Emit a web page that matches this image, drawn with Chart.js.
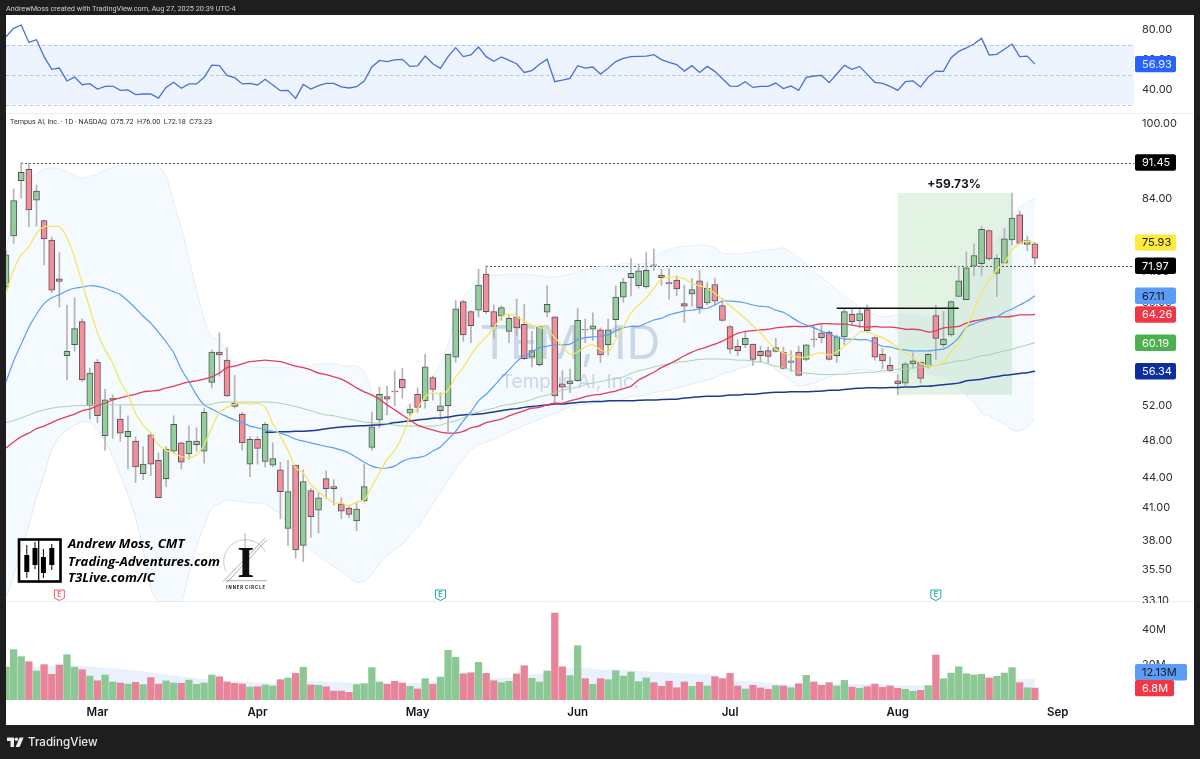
<!DOCTYPE html>
<html>
<head>
<meta charset="utf-8">
<title>TEM 1D</title>
<script src="https://cdn.jsdelivr.net/npm/chart.js@4/dist/chart.umd.min.js"></script>
<style>
  html, body { margin: 0; padding: 0; background: #1e1e1e; }
  #wrap { position: relative; width: 1200px; height: 759px; overflow: hidden; }
  #chart { position: absolute; left: 0; top: 0; }
  .txt { position: absolute; white-space: pre; font-family: Roboto, sans-serif; }
  #head { left: 6px; top: 4px; font-size: 7.3px; line-height: 10px; color: #cfcfcf; }
  #legend { left: 10px; top: 117px; font-size: 7.2px; line-height: 10px; color: #2a2e39; }
  #brand { left: 28px; top: 734px; font-family: Inter, sans-serif; font-size: 11.6px; line-height: 16px; font-weight: 500; color: #ececec; }
</style>
</head>
<body>
<div id="wrap">
  <canvas id="chart" width="1200" height="759"></canvas>
  <div class="txt" id="head">AndrewMoss created with TradingView.com, Aug 27, 2025 20:39 UTC-4</div>
  <div class="txt" id="legend">Tempus AI, Inc. · 1D · NASDAQ  O75.72  H76.00  L72.18  C73.23</div>
  <div class="txt" id="brand">TradingView</div>
</div>
<script>
// trading days, by month
const febDays = [12,13,14,18,19,20,21,24,25,26,27,28];
const marDays = [3,4,5,6,7,10,11,12,13,14,17,18,19,20,21,24,25,26,27,28,31];
const aprDays = [1,2,3,4,7,8,9,10,11,14,15,16,17,21,22,23,24,25,28,29,30];
const mayDays = [1,2,5,6,7,8,9,12,13,14,15,16,19,20,21,22,23,27,28,29,30];
const junDays = [2,3,4,5,6,9,10,11,12,13,16,17,18,20,23,24,25,26,27,30];
const julDays = [1,2,3,7,8,9,10,11,14,15,16,17,18,21,22,23,24,25,28,29,30,31];
const augDays = [1,4,5,6,7,8,11,12,13,14,15,18,19,20,21,22,25,26,27,28,29];
const sepDays = [2,3,4,5,8,9,10,11,12,15,16];

const categories = [].concat(
  febDays.map(d => 'Feb ' + d), marDays.map(d => 'Mar ' + d), aprDays.map(d => 'Apr ' + d),
  mayDays.map(d => 'May ' + d), junDays.map(d => 'Jun ' + d), julDays.map(d => 'Jul ' + d),
  augDays.map(d => 'Aug ' + d), sepDays.map(d => 'Sep ' + d)
);

const monthLabels = { 'Mar 3': 'Mar', 'Apr 1': 'Apr', 'May 1': 'May', 'Jun 2': 'Jun', 'Jul 1': 'Jul', 'Aug 1': 'Aug', 'Sep 2': 'Sep' };

const opens = [
  68.5,77.1,87.7,90.0,83.8,79.9,76.4,69.8,58.4,59.9,
  63.2,52.0,57.5,48.5,52.7,50.4,48.4,47.9,44.4,48.6,
  45.8,43.9,46.8,47.7,46.5,47.5,46.8,54.9,58.9,57.8,
  52.3,51.0,45.4,48.1,45.7,45.3,44.8,39.1,45.3,37.6,
  42.7,40.8,43.9,43.1,41.4,41.0,39.8,41.7,47.2,50.3,
  53.1,53.8,55.3,51.1,53.4,52.6,55.5,51.4,52.0,58.2,
  66.2,64.7,64.9,70.6,64.7,64.0,61.8,63.9,62.8,58.2,
  57.2,64.6,63.9,54.7,54.7,55.1,62.1,62.1,62.0,59.9,
  63.5,66.9,70.0,68.7,68.5,72.1,70.4,69.2,69.6,65.9,
  67.4,69.5,66.0,68.9,65.6,62.5,59.7,59.9,60.0,59.0,
  59.1,59.0,58.9,57.5,58.9,57.9,60.7,61.6,61.7,58.4,
  61.0,64.3,63.3,65.0,60.9,58.6,57.1,55.1,54.8,57.3,
  57.5,56.9,64.1,59.9,61.3,67.0,66.5,71.9,72.3,78.1,
  70.7,72.4,76.4,81.0,75.6,75.72
];
const closes = [
  73.8,83.7,89.4,81.9,85.6,76.6,68.0,69.4,59.0,62.2,
  55.2,56.1,50.8,52.7,52.9,48.8,49.0,45.1,45.4,45.4,
  42.0,47.0,49.8,45.6,47.9,47.9,51.2,58.9,58.5,53.2,
  51.9,47.7,48.1,47.1,49.8,46.0,42.6,42.6,37.2,43.6,
  40.2,42.0,42.9,42.9,40.7,40.4,40.9,43.1,49.5,53.4,
  52.8,53.7,54.2,51.6,51.8,56.9,54.0,52.0,58.6,65.1,
  61.3,62.6,68.8,64.7,62.5,65.3,63.7,62.3,58.0,59.1,
  62.5,65.8,53.2,54.3,55.1,63.4,62.0,62.6,58.5,62.0,
  66.9,69.3,70.7,71.1,71.2,72.0,70.0,69.0,68.2,65.5,
  68.1,65.3,68.3,66.3,63.4,59.3,59.1,60.8,57.9,58.4,
  58.3,59.5,56.7,57.7,55.8,59.9,60.6,60.9,57.9,61.0,
  64.7,63.2,64.4,61.9,58.2,57.7,56.4,54.7,57.3,57.7,
  55.4,58.6,60.8,60.7,66.2,69.5,71.6,73.7,78.3,73.1,
  73.2,76.6,80.4,75.8,76.3,73.23
];
const highs = [
  74.6,86.0,91.45,91.3,86.8,80.0,76.9,74.2,65.7,66.8,
  63.6,56.7,57.9,54.0,53.3,52.0,50.8,48.4,47.3,48.8,
  46.6,47.3,50.8,47.8,49.6,49.4,51.7,59.2,61.6,59.5,
  55.8,51.2,48.4,48.4,50.0,47.7,45.6,45.8,45.3,44.8,
  42.9,42.5,44.7,43.8,42.0,41.3,41.5,45.4,51.2,54.3,
  54.4,56.4,56.7,52.2,54.2,58.6,55.7,53.6,58.6,66.4,
  66.4,64.8,71.4,71.97,65.7,65.6,64.3,66.6,65.8,61.8,
  62.6,68.7,63.9,56.4,56.6,65.2,63.6,64.5,62.3,63.6,
  68.7,69.9,73.2,72.2,74.2,74.8,71.4,71.5,70.3,68.8,
  69.9,71.2,69.2,69.9,66.7,62.6,60.6,61.7,60.0,59.7,
  59.6,60.8,59.6,59.1,59.7,60.0,62.6,62.7,61.9,61.3,
  65.2,65.2,65.2,65.7,61.0,59.4,58.2,55.9,57.5,58.8,
  57.6,58.7,65.7,64.7,66.3,71.9,74.3,75.7,78.9,78.2,
  73.8,78.5,85.2,81.7,77.1,76.0
];
const lows = [
  68.0,75.8,84.2,78.8,78.9,72.1,67.6,65.4,55.2,59.0,
  55.0,50.4,50.0,46.9,48.2,47.9,44.9,43.5,43.8,44.2,
  42.0,43.1,46.6,44.9,45.9,46.8,45.5,54.2,55.7,53.1,
  51.7,46.9,44.1,45.4,45.1,45.1,40.0,37.6,36.5,36.2,
  38.3,38.7,41.9,41.3,40.0,40.1,38.9,41.6,46.9,49.4,
  50.9,52.0,52.9,50.8,51.2,51.7,52.7,50.3,48.9,57.5,
  60.4,60.2,63.9,64.4,60.8,63.4,60.2,61.2,57.9,56.9,
  57.0,63.9,52.4,52.7,53.6,55.0,60.2,60.5,57.5,58.5,
  61.0,66.1,67.1,68.3,68.3,71.2,68.8,66.6,67.1,63.1,
  65.5,64.4,65.7,65.7,63.3,58.7,58.4,59.5,57.1,57.6,
  57.4,58.9,56.6,56.3,55.7,57.7,59.6,60.2,57.8,57.5,
  59.9,62.7,62.3,61.7,57.8,56.7,56.3,53.34,54.5,56.7,
  54.8,56.7,57.9,59.6,61.1,67.0,66.5,70.3,70.4,72.9,
  67.0,72.3,75.5,75.7,74.5,72.18
];

const ema10 = [
  67.6,71.3,73.8,75.2,77.6,78.8,78.8,78.8,76.8,73.3,
  69.1,65.2,61.6,59.2,57.4,55.0,53.3,51.1,49.7,48.8,
  47.5,46.9,46.6,46.2,46.1,46.4,47.5,49.4,51.2,51.8,
  52.2,52.3,52.2,52.3,51.8,49.9,48.4,46.9,45.0,44.5,
  43.3,42.6,42.0,41.5,41.5,41.2,41.6,41.8,43.1,44.5,
  45.9,46.9,48.4,50.7,51.7,53.1,53.6,53.4,53.9,55.6,
  56.8,58.5,59.9,61.0,62.3,63.9,64.3,63.9,63.3,62.7,
  62.4,62.0,60.9,59.7,58.6,58.9,59.6,59.9,59.2,58.9,
  60.6,62.4,64.5,65.7,66.8,68.3,69.8,70.1,70.1,69.8,
  69.1,68.7,68.3,67.5,66.5,65.6,64.6,63.7,62.6,61.6,
  60.3,59.3,58.8,58.4,58.2,58.2,58.6,58.8,58.5,58.9,
  59.7,60.6,61.7,61.7,61.3,60.9,60.3,59.5,58.8,58.1,
  57.4,57.0,57.1,57.5,58.9,60.3,62.4,64.9,67.6,69.6,
  71.3,72.4,74.7,75.8,76.2,75.93
];
const sma20 = [
  54.95,57.7,60.0,62.4,64.3,65.9,66.8,67.3,67.9,68.3,
  68.5,68.7,68.6,68.3,67.8,67.3,66.3,65.2,64.0,63.0,
  61.7,60.3,58.8,56.6,55.0,53.3,52.1,51.6,51.1,50.7,
  50.3,50.0,49.6,49.4,49.15,49.0,48.8,48.5,48.1,47.9,
  47.7,47.5,47.3,47.15,46.9,46.6,46.1,45.6,45.2,45.0,
  45.0,45.2,45.7,46.0,46.1,46.3,46.8,47.25,48.1,49.0,
  50.2,51.25,52.6,53.4,54.4,55.5,56.5,57.6,58.4,58.9,
  59.5,59.7,59.9,59.9,60.0,60.6,60.9,61.0,61.1,61.3,
  61.85,62.3,62.5,62.5,63.0,63.45,63.7,64.2,64.5,64.8,
  64.9,65.1,65.2,65.7,66.3,66.3,66.2,66.0,65.7,65.5,
  65.4,64.9,64.6,63.9,63.2,62.7,62.3,61.85,61.4,61.0,
  60.7,60.7,60.6,60.6,60.15,59.7,59.6,59.3,59.2,59.05,
  59.05,59.05,59.2,59.3,59.9,60.9,62.4,62.9,63.3,63.6,
  63.9,64.6,65.1,65.7,66.3,67.11
];
const sma50 = [
  47.15,47.8,48.4,48.8,49.3,49.6,50.0,50.4,50.7,51.0,
  51.4,51.6,52.0,52.3,52.7,52.95,53.2,53.4,53.7,53.8,
  53.9,54.2,54.4,54.7,54.95,55.1,55.3,55.6,56.1,56.8,
  57.0,57.3,57.6,57.7,57.8,57.7,57.6,57.3,57.0,56.8,
  56.5,56.1,55.9,55.6,55.3,54.8,54.2,53.7,53.3,52.8,
  52.1,51.5,50.9,50.3,49.7,49.4,49.15,48.9,48.8,48.8,
  49.0,49.4,49.6,50.0,50.2,50.4,50.8,51.1,51.4,51.7,
  51.8,52.1,52.3,52.3,52.6,52.8,53.1,53.3,53.4,53.6,
  53.8,54.1,54.4,55.2,55.7,56.2,56.8,57.3,57.8,58.4,
  58.9,59.3,59.6,60.0,60.4,61.0,61.5,61.8,61.9,62.0,
  62.1,62.3,62.4,62.5,62.5,62.5,62.7,62.9,62.9,62.85,
  62.85,62.7,62.5,62.4,62.5,62.4,62.4,62.3,62.1,62.1,
  62.0,61.7,61.85,62.3,62.4,62.5,63.0,63.3,63.5,63.75,
  63.9,63.9,64.0,64.2,64.2,64.26
];
const sma100 = [
  50.0,50.25,50.55,50.9,51.25,51.5,51.7,51.85,51.9,52.0,
  52.0,52.05,52.1,52.1,52.1,52.1,52.1,52.1,52.1,52.1,
  52.1,52.1,52.1,52.1,52.1,52.1,52.1,52.2,52.4,52.45,
  52.45,52.45,52.45,52.45,52.45,52.4,52.3,52.1,51.9,51.65,
  51.4,51.1,50.9,50.8,50.6,50.4,50.25,50.05,50.0,49.9,
  49.85,49.7,49.6,49.6,49.6,49.6,49.6,49.7,50.0,50.2,
  50.55,51.0,51.25,51.5,51.7,52.0,52.15,52.3,52.5,52.75,
  53.1,53.3,53.6,53.9,54.1,54.3,54.6,54.8,55.0,55.2,
  55.4,55.6,56.05,56.4,56.6,56.9,57.1,57.3,57.5,57.6,
  57.75,57.9,57.95,57.95,57.95,57.9,57.8,57.8,57.7,57.5,
  57.3,57.0,56.8,56.5,56.2,56.1,56.0,55.9,55.9,55.9,
  55.95,56.05,56.1,56.2,56.2,56.4,56.5,56.6,56.6,56.8,
  56.8,57.0,57.1,57.3,57.5,57.7,57.8,58.1,58.4,58.5,
  58.8,59.05,59.3,59.6,59.9,60.19
];
const sma200 = [
  null,null,null,null,null,null,null,null,null,null,
  null,null,null,null,null,null,null,null,null,null,
  null,null,null,null,null,null,null,null,null,null,
  null,null,null,null,48.9,48.9,48.95,48.95,49.0,49.0,
  49.05,49.15,49.3,49.4,49.5,49.55,49.6,49.65,49.7,49.75,
  49.85,50.0,50.1,50.2,50.3,50.4,50.5,50.55,50.65,50.8,
  50.9,50.95,51.0,51.1,51.25,51.4,51.55,51.65,51.8,51.9,
  52.0,52.1,52.2,52.2,52.3,52.4,52.45,52.5,52.5,52.6,
  52.6,52.6,52.6,52.65,52.7,52.7,52.75,52.8,52.8,52.95,
  53.0,53.1,53.15,53.15,53.2,53.3,53.3,53.4,53.4,53.5,
  53.6,53.65,53.65,53.7,53.7,53.7,53.75,53.8,53.9,53.9,
  54.0,54.1,54.15,54.2,54.2,54.2,54.25,54.25,54.3,54.3,
  54.4,54.4,54.5,54.6,54.7,54.8,55.1,55.2,55.3,55.5,
  55.65,55.8,55.9,56.05,56.15,56.34
];
const bbUpper = [
  74.6,81.0,85.8,88.2,89.0,90.1,90.3,90.2,89.5,88.8,
  88.2,88.6,89.0,89.9,90.4,90.7,90.9,90.9,90.9,90.9,
  90.7,88.6,83.4,78.6,73.3,67.9,63.7,60.9,60.6,58.8,
  57.7,57.3,56.9,56.9,56.8,56.8,56.8,56.8,56.8,57.0,
  57.1,57.3,57.3,57.3,57.1,57.0,57.0,56.2,53.7,52.1,
  51.25,50.9,51.25,52.2,53.2,54.4,55.7,57.3,59.9,64.2,
  66.8,68.3,69.8,70.3,70.4,70.4,70.6,70.6,70.6,70.4,
  70.3,70.1,70.1,70.3,70.6,70.9,71.3,71.6,71.8,71.9,
  72.1,72.3,72.3,72.3,72.4,73.3,74.3,74.65,75.2,75.3,
  75.4,75.5,75.5,75.0,74.1,74.0,74.0,74.1,74.3,74.5,
  74.65,74.8,75.0,74.3,73.3,72.3,70.9,70.1,69.1,68.0,
  67.1,66.2,65.4,64.6,64.2,63.9,64.0,64.3,64.5,64.6,
  64.2,64.0,64.6,65.2,66.5,67.7,69.6,71.3,73.3,75.0,
  76.8,78.6,80.8,82.5,83.4,84.0
];
// the lower band runs off the bottom of the pane around Mar 14-19
const bbLower = [
  33.3,35.1,37.25,39.4,42.0,44.3,46.9,48.4,49.15,49.7,
  50.05,50.05,49.15,47.9,46.2,44.3,42.3,40.1,37.25,34.05,
  33.0,33.0,33.0,33.0,35.2,37.5,39.3,41.0,41.4,41.8,
  41.7,41.6,41.5,41.5,41.4,40.9,40.5,39.5,38.7,37.8,
  37.2,36.7,36.2,35.8,35.4,34.9,34.5,34.6,35.2,36.0,
  36.7,37.25,37.7,38.5,39.2,40.2,41.4,42.5,43.7,44.9,
  45.95,46.9,47.5,47.8,48.1,48.5,48.9,49.3,49.7,50.05,
  50.4,50.8,51.1,51.5,51.85,52.1,52.2,52.3,52.4,52.45,
  52.6,52.8,53.1,53.2,53.3,53.6,53.8,53.9,54.2,54.4,
  54.7,54.95,55.2,55.5,56.0,56.2,56.6,56.9,57.3,57.6,
  57.3,56.6,55.9,55.1,54.4,54.6,54.8,55.2,55.6,56.0,
  56.2,56.4,56.5,56.5,56.4,56.2,56.2,56.2,56.2,56.2,
  56.1,56.0,55.7,55.5,54.95,54.3,53.2,52.45,51.1,50.8,
  50.3,49.85,49.15,49.05,49.5,50.4
];

const rsi = [
  75.2,80.8,83.0,71.4,73.2,61.9,53.4,54.3,45.7,48.3,
  43.2,43.9,40.3,42.1,42.3,39.4,39.7,36.6,37.0,37.0,
  34.3,41.4,44.8,40.8,43.7,43.7,48.1,56.3,55.9,49.4,
  47.9,43.7,44.1,43.0,46.8,43.0,39.2,39.4,34.1,43.4,
  40.3,42.6,44.1,44.1,41.7,41.0,41.9,45.7,55.0,59.4,
  58.6,59.7,60.1,55.4,55.7,62.3,57.2,54.1,61.9,67.9,
  61.9,63.0,68.3,61.9,58.8,61.7,59.4,57.2,51.4,52.6,
  56.8,60.1,45.2,46.3,47.4,55.9,54.3,55.0,50.3,54.1,
  58.6,60.8,61.9,62.1,62.3,63.2,59.9,58.1,56.6,52.3,
  55.9,51.4,55.4,52.1,47.2,42.3,42.1,45.2,41.4,42.1,
  42.1,44.3,40.6,42.3,39.4,48.1,49.0,49.4,44.6,50.3,
  56.1,53.4,55.4,50.1,44.8,44.1,42.1,39.4,45.2,45.7,
  41.7,48.3,52.3,52.1,61.2,65.4,67.7,70.3,74.1,63.0,
  63.4,66.8,70.3,61.9,62.3,56.93
];

// volume in millions
const volume = [
  18.9,28.8,24.8,21.9,16.6,20.2,14.7,20.0,25.9,18.7,
  17.3,13.7,11.0,14.3,10.3,9.7,9.1,10.1,8.8,12.8,
  9.1,10.9,9.7,9.5,11.4,9.0,9.7,14.3,13.3,10.3,
  9.5,9.1,7.4,7.6,8.6,8.0,11.6,12.6,15.2,18.7,
  8.6,8.4,7.6,5.1,5.1,4.4,8.8,9.3,18.5,10.3,
  9.0,10.7,9.7,7.8,6.3,12.2,9.0,13.1,28.4,24.4,
  15.0,15.6,21.5,15.2,11.0,9.9,10.7,14.9,19.6,12.4,
  10.3,16.6,49.7,19.0,13.9,31.0,12.2,9.0,12.2,11.6,
  16.8,13.7,16.0,10.5,12.6,9.9,7.8,10.7,7.0,10.3,
  7.8,10.1,8.0,13.3,12.2,15.2,8.0,6.3,8.4,6.9,
  6.1,8.2,8.0,7.0,9.3,14.1,10.3,8.4,9.9,8.0,
  11.2,7.4,6.7,7.6,9.1,7.2,8.0,6.7,6.1,5.0,
  5.5,8.2,25.7,12.2,15.4,19.0,15.0,14.3,14.7,12.6,
  13.5,15.4,18.5,9.9,7.0,6.8
];
const volumeMa = [
  17.9,18.5,18.7,18.9,19.0,19.2,19.4,19.6,19.8,19.6,
  19.4,19.2,18.9,18.5,18.1,17.7,17.3,17.0,16.4,15.8,
  15.2,14.7,14.1,13.5,13.0,12.4,12.0,11.6,11.4,11.0,
  10.9,10.5,10.3,10.1,9.7,9.5,9.7,9.9,10.3,10.9,
  10.9,10.7,10.5,10.3,10.1,9.9,9.7,9.5,9.3,9.5,
  9.7,9.7,9.5,9.5,9.7,9.9,10.1,10.5,10.9,11.2,
  11.6,12.0,12.4,12.2,12.4,12.8,13.1,13.5,14.1,14.7,
  15.0,15.8,17.0,17.9,18.5,18.5,18.3,17.9,17.5,17.3,
  17.1,17.0,16.8,16.6,16.4,16.0,15.8,15.6,15.4,15.2,
  15.2,15.0,15.0,14.1,12.8,11.6,11.2,10.9,10.5,10.1,
  9.7,9.3,9.0,8.6,8.8,9.0,9.1,9.1,9.1,9.1,
  9.3,9.1,9.1,9.0,8.8,8.8,8.6,8.4,8.4,8.4,
  8.4,8.4,8.4,8.8,9.1,9.5,9.9,10.3,10.7,11.0,
  11.4,11.8,12.0,12.2,12.2,12.13
];

const rsiTicks = [80, 60, 40];
const rsiBands = [70, 50, 30];
const priceTicks = [100, 84, 76, 71, 66, 52, 48, 44, 41, 38, 35.5, 33.1];
const volumeTicks = [40, 20];

const earnings = [
  { day: 'Feb 24', color: '#ef5b6d' },
  { day: 'May 6', color: '#26a69a' },
  { day: 'Aug 8', color: '#26a69a' }
];
const measured = { from: 'Aug 1', to: 'Aug 22', low: 53.34, high: 85.2, label: '+59.73%' };
const dottedLevels = [
  { value: 91.45, from: 'Feb 14' },
  { value: 71.97, from: 'May 14' }
];
const breakoutLine = { value: 65.2, from: 'Jul 22', to: 'Aug 13' };

const axisFont = { family: 'Inter', size: 11 };
const upFill = '#93cf9c';
const downFill = '#f48d9c';
const candleUp = closes.map((c, i) => c >= opens[i]);

const lineSet = (label, data, color, width, yAxisID, extra) => Object.assign({
  type: 'line', label, data, borderColor: color, borderWidth: width, yAxisID,
  pointRadius: 0, tension: 0, spanGaps: false, fill: false, order: 1
}, extra);

const drawRound = (ctx, x, y, w, h, r) => {
  ctx.beginPath();
  ctx.roundRect(x, y, w, h, r);
  ctx.fill();
};

// plot furniture: frame, panes, watermark, drawings, logos, axis badges
const tvPlugin = {
  id: 'tvPlugin',
  beforeDraw(chart) {
    const ctx = chart.ctx;
    ctx.save();
    ctx.fillStyle = '#ffffff';
    ctx.fillRect(6, 15, 1188, 710);
    ctx.strokeStyle = '#eceef2';
    ctx.lineWidth = 1;
    const sep1 = chart.scales.yRsi.bottom, sep2 = chart.scales.yPrice.bottom;
    [sep1, sep2].forEach(y => {
      ctx.beginPath();
      ctx.moveTo(6, Math.round(y) - 0.5);
      ctx.lineTo(1194, Math.round(y) - 0.5);
      ctx.stroke();
    });
    ctx.restore();
  },
  beforeDatasetsDraw(chart) {
    const ctx = chart.ctx;
    const { x, yRsi, yPrice } = chart.scales;
    const a = chart.chartArea;
    ctx.save();

    // rsi band
    ctx.fillStyle = '#eef4fd';
    const top = yRsi.getPixelForValue(rsiBands[0]), bot = yRsi.getPixelForValue(rsiBands[2]);
    ctx.fillRect(a.left, top, a.right - a.left, bot - top);
    ctx.strokeStyle = '#b4c6ec';
    ctx.setLineDash([3.5, 2.5]);
    ctx.lineWidth = 1;
    rsiBands.forEach(v => {
      const y = Math.round(yRsi.getPixelForValue(v)) + 0.5;
      ctx.beginPath();
      ctx.moveTo(a.left, y);
      ctx.lineTo(a.right, y);
      ctx.stroke();
    });
    ctx.setLineDash([]);

    // watermark
    ctx.fillStyle = '#d3dbe6';
    ctx.textAlign = 'center';
    ctx.textBaseline = 'middle';
    ctx.font = '47px Inter';
    ctx.fillText('TEM, 1D', 570, 345);
    ctx.font = '19px Inter';
    ctx.fillText('Tempus AI, Inc.', 570, 382);

    // measured move box
    ctx.fillStyle = 'rgba(76,175,80,0.16)';
    const bx = x.getPixelForValue(categories.indexOf(measured.from));
    const bx2 = x.getPixelForValue(categories.indexOf(measured.to));
    const by = yPrice.getPixelForValue(measured.high);
    const by2 = yPrice.getPixelForValue(measured.low);
    ctx.fillRect(bx, by, bx2 - bx, by2 - by);

    // dotted levels
    ctx.strokeStyle = '#111111';
    ctx.setLineDash([1.5, 2.5]);
    dottedLevels.forEach(l => {
      const y = Math.round(yPrice.getPixelForValue(l.value)) + 0.5;
      ctx.beginPath();
      ctx.moveTo(x.getPixelForValue(categories.indexOf(l.from)), y);
      ctx.lineTo(a.right, y);
      ctx.stroke();
    });
    ctx.restore();
  },
  afterDatasetsDraw(chart) {
    const ctx = chart.ctx;
    const { x, yPrice } = chart.scales;
    ctx.save();

    // breakout line
    ctx.strokeStyle = '#111111';
    ctx.lineWidth = 1.5;
    const ly = yPrice.getPixelForValue(breakoutLine.value);
    ctx.beginPath();
    ctx.moveTo(x.getPixelForValue(categories.indexOf(breakoutLine.from)), ly);
    ctx.lineTo(x.getPixelForValue(categories.indexOf(breakoutLine.to)), ly);
    ctx.stroke();

    ctx.fillStyle = '#131722';
    ctx.font = '700 12px Inter';
    ctx.textAlign = 'center';
    ctx.textBaseline = 'middle';
    ctx.fillText(measured.label, 954, 184.5);

    // earnings markers
    earnings.forEach(e => {
      const ex = x.getPixelForValue(categories.indexOf(e.day));
      ctx.strokeStyle = e.color;
      ctx.fillStyle = '#ffffff';
      ctx.lineWidth = 1;
      ctx.beginPath();
      ctx.moveTo(ex - 5, 590);
      ctx.lineTo(ex + 5, 590);
      ctx.lineTo(ex + 5, 598);
      ctx.lineTo(ex, 600.5);
      ctx.lineTo(ex - 5, 598);
      ctx.closePath();
      ctx.fill();
      ctx.stroke();
      ctx.fillStyle = e.color;
      ctx.font = '600 7px Inter';
      ctx.fillText('E', ex, 594.8);
    });

    // author logo
    ctx.fillStyle = '#000000';
    ctx.strokeStyle = '#000000';
    ctx.lineWidth = 2.6;
    ctx.strokeRect(19, 539.5, 41.5, 42);
    ctx.lineWidth = 1;
    [[26.8, 545, 578, 555, 572], [35, 542, 569, 548, 565], [43.4, 549, 578, 557, 573], [51.8, 544, 570, 548, 565]].forEach(c => {
      ctx.beginPath();
      ctx.moveTo(c[0], c[1]);
      ctx.lineTo(c[0], c[2]);
      ctx.stroke();
      ctx.fillRect(c[0] - 2.5, c[3], 5, c[4] - c[3]);
    });
    ctx.lineWidth = 1.2;
    ctx.beginPath();
    ctx.moveTo(38.7, 539);
    ctx.lineTo(38.7, 583);
    ctx.stroke();
    ctx.textAlign = 'left';
    ctx.textBaseline = 'middle';
    ctx.font = 'italic 700 13.2px "Open Sans"';
    ctx.fillText('Andrew Moss, CMT', 68, 544.5);
    ctx.fillText('Trading-Adventures.com', 68, 561.8);
    ctx.fillText('T3Live.com/IC', 68, 578.5);

    // inner circle logo
    ctx.strokeStyle = '#b5b5b5';
    ctx.lineWidth = 0.7;
    ctx.beginPath();
    ctx.arc(245.7, 561.7, 22, 0.85 * Math.PI, 1.85 * Math.PI);
    ctx.stroke();
    ctx.strokeStyle = '#8a8a8a';
    [[223, 581.7, 265, 538.3], [226.7, 582.7, 266.7, 540], [226, 580.7, 267, 580.7], [245, 533, 245, 550]].forEach(l => {
      ctx.beginPath();
      ctx.moveTo(l[0], l[1]);
      ctx.lineTo(l[2], l[3]);
      ctx.stroke();
    });
    ctx.fillStyle = '#111111';
    ctx.font = '700 44px "Liberation Serif"';
    ctx.textAlign = 'center';
    ctx.fillText('I', 245.7, 566);
    ctx.font = '700 4.2px Inter';
    ctx.fillText('I N N E R  C I R C L E', 245.7, 587.3);
    ctx.restore();
  },
  afterDraw(chart) {
    const ctx = chart.ctx;
    const { yRsi, yPrice, yVol } = chart.scales;
    ctx.save();

    // the lowest price label is cut by the pane edge
    ctx.fillStyle = '#ffffff';
    ctx.fillRect(1135, 603, 58, 6);

    // axis badges
    const badges = [
      { text: rsi[rsi.length - 1].toFixed(2), y: yRsi.getPixelForValue(rsi[rsi.length - 1]), bg: '#2962ff', fg: '#e8eeff', w: 41 },
      { text: '91.45', y: yPrice.getPixelForValue(91.45), bg: '#000000', fg: '#ffffff', w: 41 },
      { text: ema10[ema10.length - 1].toFixed(2), y: yPrice.getPixelForValue(ema10[ema10.length - 1]), bg: '#ffeb3b', fg: '#131722', w: 41 },
      { text: '71.97', y: yPrice.getPixelForValue(71.97), bg: '#000000', fg: '#ffffff', w: 41 },
      { text: sma20[sma20.length - 1].toFixed(2), y: yPrice.getPixelForValue(sma20[sma20.length - 1]), bg: '#5b9cf6', fg: '#131722', w: 41 },
      { text: sma50[sma50.length - 1].toFixed(2), y: yPrice.getPixelForValue(sma50[sma50.length - 1]), bg: '#f23645', fg: '#ffffff', w: 41 },
      { text: sma100[sma100.length - 1].toFixed(2), y: yPrice.getPixelForValue(sma100[sma100.length - 1]), bg: '#4caf50', fg: '#ffffff', w: 41 },
      { text: sma200[sma200.length - 1].toFixed(2), y: yPrice.getPixelForValue(sma200[sma200.length - 1]), bg: '#0d2f9e', fg: '#ffffff', w: 41 },
      // pushed up by the 6.8M label, as the platform does
      { text: volumeMa[volumeMa.length - 1] + 'M', y: yVol.getPixelForValue(volumeMa[volumeMa.length - 1]) - 6.5, bg: '#5b9cf6', fg: '#131722', w: 52 },
      { text: volume[volume.length - 1] + 'M', y: yVol.getPixelForValue(volume[volume.length - 1]), bg: '#f23645', fg: '#ffffff', w: 39 }
    ];
    ctx.font = '11px Inter';
    ctx.textAlign = 'left';
    ctx.textBaseline = 'middle';
    badges.forEach(b => {
      ctx.fillStyle = b.bg;
      drawRound(ctx, 1135, b.y - 8.2, b.w, 16.4, 2);
      ctx.fillStyle = b.fg;
      ctx.fillText(b.text, 1142, b.y + 0.5);
    });

    // platform logo
    ctx.fillStyle = '#ececec';
    ctx.beginPath();
    ctx.moveTo(7, 737.5);
    ctx.lineTo(14, 737.5);
    ctx.lineTo(14, 747);
    ctx.lineTo(10.5, 747);
    ctx.lineTo(10.5, 741);
    ctx.lineTo(7, 741);
    ctx.closePath();
    ctx.fill();
    ctx.beginPath();
    ctx.arc(16.4, 739.3, 1.8, 0, Math.PI * 2);
    ctx.fill();
    ctx.beginPath();
    ctx.moveTo(19.6, 737.5);
    ctx.lineTo(23.6, 737.5);
    ctx.lineTo(19.6, 747);
    ctx.lineTo(15.6, 747);
    ctx.closePath();
    ctx.fill();
    ctx.restore();
  }
};

const yScale = (opts, ticksList, format) => Object.assign({
  position: 'right',
  stack: 'panes',
  grid: { display: false, drawTicks: false },
  border: { display: false },
  afterFit(scale) { scale.width = 60; },
  afterBuildTicks(scale) { scale.ticks = ticksList.map(v => ({ value: v })); },
  ticks: {
    autoSkip: false,
    padding: 8,
    color: '#2a2e39',
    font: axisFont,
    callback: format
  }
}, opts);

const chart = new Chart(document.getElementById('chart'), {
  type: 'bar',
  data: {
    labels: categories,
    datasets: [
      lineSet('EMA 10', ema10, '#f5e663', 1.3, 'yPrice', { tension: 0.25 }),
      lineSet('SMA 20', sma20, '#5b9cf6', 1.2, 'yPrice', { tension: 0.25 }),
      lineSet('SMA 50', sma50, '#e23d5b', 1.3, 'yPrice', { tension: 0.25 }),
      lineSet('SMA 100', sma100, '#a5d1ab', 1, 'yPrice', { tension: 0.25 }),
      lineSet('SMA 200', sma200, '#1c3a94', 1.5, 'yPrice', { tension: 0.25 }),
      lineSet('RSI', rsi, '#4a6fd8', 1.3, 'yRsi'),
      {
        type: 'bar', label: 'Body', yAxisID: 'yPrice', grouped: false, order: 3,
        data: opens.map((o, i) => [o, closes[i]]),
        backgroundColor: candleUp.map(u => u ? upFill : downFill),
        borderColor: '#555555', borderWidth: 1, borderSkipped: false, barThickness: 6
      },
      {
        type: 'bar', label: 'Wick', yAxisID: 'yPrice', grouped: false, order: 4,
        data: lows.map((l, i) => [l, highs[i]]),
        backgroundColor: '#b3b3b3', barThickness: 1
      },
      lineSet('BB upper', bbUpper, '#e3edf9', 1, 'yPrice', { order: 5, tension: 0.25, fill: '+1', backgroundColor: 'rgba(33,150,243,0.045)' }),
      lineSet('BB lower', bbLower, '#e3edf9', 1, 'yPrice', { order: 5, tension: 0.25 }),
      {
        type: 'bar', label: 'Volume', yAxisID: 'yVol', grouped: false, order: 6,
        data: volume,
        backgroundColor: candleUp.map(u => u ? '#8cc894' : '#e8849a'),
        barThickness: 6.6
      },
      lineSet('Volume MA', volumeMa, 'rgba(0,0,0,0)', 0, 'yVol', { order: 7, tension: 0.25, fill: 'origin', backgroundColor: '#e9f1fc' })
    ]
  },
  options: {
    responsive: false,
    animation: false,
    events: [],
    layout: { padding: { left: 6, right: 6, top: 15, bottom: 34 } },
    plugins: { legend: { display: false }, tooltip: { enabled: false } },
    scales: {
      x: {
        type: 'category',
        offset: false,
        grid: { display: false, drawTicks: false },
        border: { display: false },
        afterFit(scale) { scale.height = 25; },
        ticks: {
          autoSkip: false,
          maxRotation: 0,
          padding: 6,
          color: '#131722',
          font: { family: 'Inter', size: 11.5, weight: '600' },
          callback(v) { return monthLabels[categories[v]] || ''; }
        }
      },
      yRsi: yScale({ type: 'linear', weight: 1, stackWeight: 99, min: 23.67, max: 89.67 }, rsiTicks, v => v.toFixed(2)),
      yPrice: yScale({ type: 'logarithmic', weight: 2, stackWeight: 488, min: 32.97, max: 102.35 }, priceTicks, v => v.toFixed(2)),
      yVol: yScale({ type: 'linear', weight: 3, stackWeight: 98, min: 0, max: 56 }, volumeTicks, v => v + 'M')
    }
  },
  plugins: [tvPlugin]
});
</script>
</body>
</html>
